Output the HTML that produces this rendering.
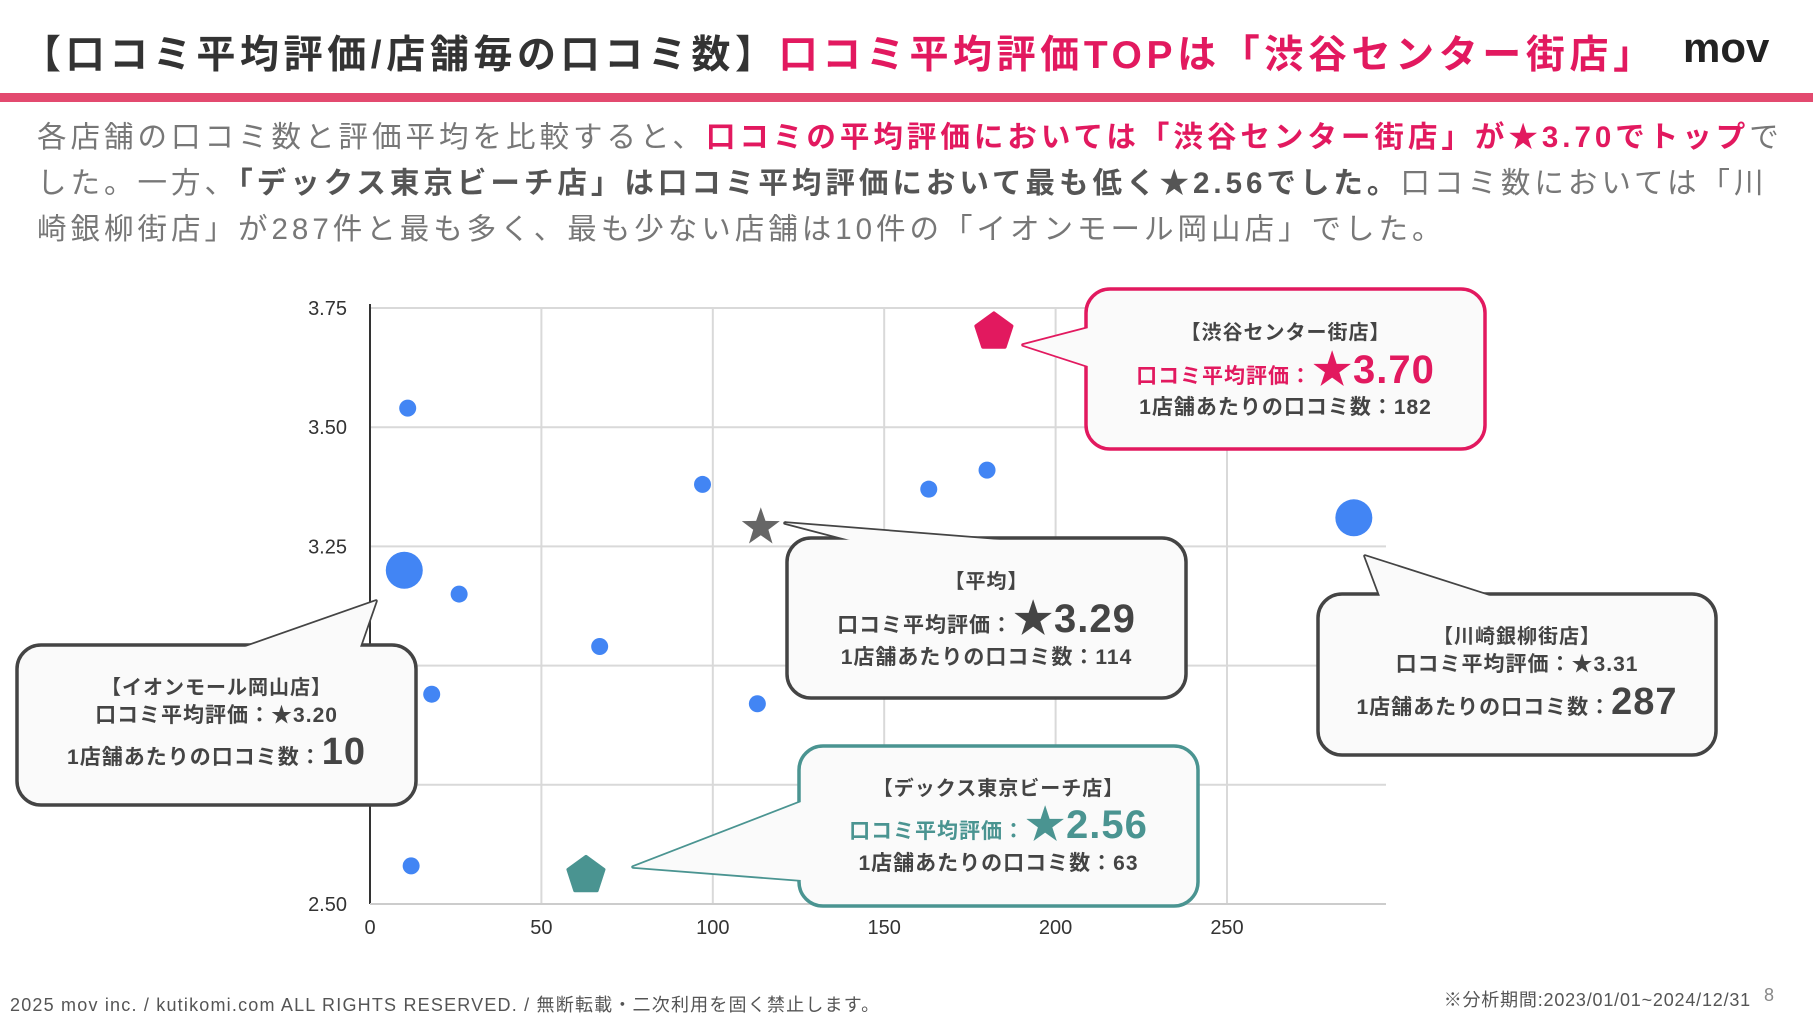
<!DOCTYPE html>
<html><head><meta charset="utf-8">
<style>
body{margin:0;width:1813px;height:1020px;background:#fff;overflow:hidden;position:relative;font-family:"Liberation Sans","Noto Sans CJK JP",sans-serif;}
.abs{position:absolute;white-space:nowrap;}
</style></head><body>
<div class="abs" style="left:22px;top:24px;font-size:39px;letter-spacing:4.6px;font-weight:bold;color:#333;">【口コミ平均評価/店舗毎の口コミ数】<span style="color:#e2195f">口コミ平均評価TOPは「渋谷センター街店」</span></div>
<div class="abs" style="left:1683px;top:24px;font-size:42px;font-weight:bold;color:#222;">mov</div>
<div class="abs" style="left:0;top:93px;width:1813px;height:9px;background:#e34a6f;"></div>
<div class="abs" style="left:37px;top:115px;font-size:29.5px;letter-spacing:4px;line-height:46px;color:#777;">各店舗の口コミ数と評価平均を比較すると、<b style="color:#e2195f">口コミの平均評価においては「渋谷センター街店」が★3.70でトップ</b>で<br>した。一方、<b style="color:#555">「デックス東京ビーチ店」は口コミ平均評価において最も低く★2.56でした。</b>口コミ数においては「川<br>崎銀柳街店」が287件と最も多く、最も少ない店舗は10件の「イオンモール岡山店」でした。</div>

<svg id="chart" width="1813" height="1020" style="position:absolute;left:0;top:0;font-family:'Liberation Sans','Noto Sans CJK JP',sans-serif;"></svg>

<div class="abs" style="left:10px;top:991px;font-size:18px;letter-spacing:1.2px;color:#555;">2025 mov inc. / kutikomi.com ALL RIGHTS RESERVED. / 無断転載・二次利用を固く禁止します。</div>
<div class="abs" style="right:62px;top:986px;font-size:18px;letter-spacing:0.8px;color:#555;">※分析期間:2023/01/01~2024/12/31</div>
<div class="abs" style="left:1764px;top:985px;font-size:18px;color:#888;">8</div>

<script>
const xTicks=[0,50,100,150,200,250];
const yTicks=[2.50,2.75,3.00,3.25,3.50,3.75];
const yTickLabels=["2.50","","","3.25","3.50","3.75"];
const storeCounts=[11,10,26,67,18,97,113,163,180,287,12];
const storeRatings=[3.54,3.20,3.15,3.04,2.94,3.38,2.92,3.37,3.41,3.31,2.58];
const storeBig=[0,1,0,0,0,0,0,0,0,1,0];
const topStore=[182,3.70];
const lowStore=[63,2.56];
const avgStore=[114,3.29];

const NS="http://www.w3.org/2000/svg";
const svg=document.getElementById('chart');
const X0=370,X1=1227,XR=1386,Y0=904,Y1=308;
const sx=v=>X0+(v-0)/(250-0)*(X1-X0);
const sy=v=>Y0-(v-2.5)/(3.75-2.5)*(Y0-Y1);
function el(t,a,p){const e=document.createElementNS(NS,t);for(const k in a)e.setAttribute(k,a[k]);(p||svg).appendChild(e);return e;}

const grid=el('g',{});


yTicks.forEach((t,i)=>{
  const l=el('line',{x1:X0,x2:XR,y1:sy(t),y2:sy(t),stroke:'#d9d9d9','stroke-width':2},grid);
  
  
  const tx=el('text',{x:347,y:sy(t)+7,'text-anchor':'end','font-size':20,fill:'#333'});
  tx.textContent=yTickLabels[i];
  
  
});
xTicks.forEach(t=>{
  if(t>0){const l=el('line',{x1:sx(t),x2:sx(t),y1:Y1,y2:Y0,stroke:'#d9d9d9','stroke-width':2},grid);
  
  }
  const tx=el('text',{x:sx(t),y:934,'text-anchor':'middle','font-size':20,fill:'#333'});
  tx.textContent=String(t);
  
  
});
const ax=el('line',{x1:X0,x2:X0,y1:Y1-4,y2:Y0,stroke:'#333','stroke-width':2});


const ax2=el('line',{x1:X0,x2:XR,y1:Y0,y2:Y0,stroke:'#ccc','stroke-width':2});



storeCounts.forEach((c,i)=>{
  const p=el('circle',{cx:sx(c),cy:sy(storeRatings[i]),r:storeBig[i]?18.5:8.5,fill:'#4285f4'});
  
  
});
function pent(cx,cy,r,col,name){
  let pts=[];for(let k=0;k<5;k++){const a=-Math.PI/2+k*2*Math.PI/5;pts.push((cx+r*Math.cos(a)).toFixed(1)+','+(cy+r*Math.sin(a)).toFixed(1));}
  const p=el('polygon',{points:pts.join(' '),fill:col,stroke:col,'stroke-width':3,'stroke-linejoin':'round'});
  
  
}
pent(sx(topStore[0]),sy(topStore[1]),19,'#e2195f','top-store-point');
pent(sx(lowStore[0]),sy(lowStore[1]),19,'#4a9491','lowest-store-point');
(function(){const cx=sx(avgStore[0]),cy=sy(avgStore[1]);let pts=[];
for(let k=0;k<10;k++){const r=k%2?8:20;const a=-Math.PI/2+k*Math.PI/5;pts.push((cx+r*Math.cos(a)).toFixed(1)+','+(cy+r*Math.sin(a)).toFixed(1));}
const p=el('polygon',{points:pts.join(' '),fill:'#666'});

})();

function callout(name,bx,by,bw,bh,tri,col,lines){
  const g=el('g',{});
  
  
  const tp=tri.map(p=>p.join(',')).join(' ');
  el('polygon',{points:tp,fill:'#fafafa',stroke:col,'stroke-width':3.5,'stroke-linejoin':'round'},g);
  el('rect',{x:bx,y:by,width:bw,height:bh,rx:24,fill:'#fafafa',stroke:col,'stroke-width':3.5},g);
  el('polygon',{points:tp,fill:'#fafafa'},g);
  const cx=bx+bw/2;
  lines.forEach(L=>{
    const t=el('text',{x:cx,y:L.y,'text-anchor':'middle','font-weight':'bold','font-size':20,fill:'#444','letter-spacing':1},g);
    L.parts.forEach(pt=>{const s=el('tspan',{'font-size':pt.s||20,fill:pt.c||'#444'},t);s.textContent=pt.t;});
  });
}
const PK='#e2195f',TL='#4a9491',DK='#444';
callout('callout-shibuya',1086,289,399,160,[[1100,325],[1023,345],[1100,370]],PK,[
 {y:339,parts:[{t:'【渋谷センター街店】'}]},
 {y:383,parts:[{t:'口コミ平均評価：',c:PK,s:21},{t:'★3.70',c:PK,s:40}]},
 {y:414,parts:[{t:'1店舗あたりの口コミ数：182',s:21}]}]);
callout('callout-average',787,538,399,160,[[850,540],[785,523],[1000,540]],DK,[
 {y:588,parts:[{t:'【平均】'}]},
 {y:632,parts:[{t:'口コミ平均評価：',s:21},{t:'★3.29',s:40}]},
 {y:664,parts:[{t:'1店舗あたりの口コミ数：114',s:21}]}]);
callout('callout-kawasaki',1318,594,398,161,[[1380,596],[1365,556],[1490,596]],DK,[
 {y:643,parts:[{t:'【川崎銀柳街店】'}]},
 {y:671,parts:[{t:'口コミ平均評価：★3.31',s:21}]},
 {y:714,parts:[{t:'1店舗あたりの口コミ数：',s:21},{t:'287',s:38}]}]);
callout('callout-aeon',17,645,399,160,[[245,647],[376,601],[360,647]],DK,[
 {y:694,parts:[{t:'【イオンモール岡山店】'}]},
 {y:722,parts:[{t:'口コミ平均評価：★3.20',s:21}]},
 {y:764,parts:[{t:'1店舗あたりの口コミ数：',s:21},{t:'10',s:38}]}]);
callout('callout-decks',799,746,399,160,[[801,802],[633,867],[801,880]],TL,[
 {y:795,parts:[{t:'【デックス東京ビーチ店】'}]},
 {y:838,parts:[{t:'口コミ平均評価：',c:TL,s:21},{t:'★2.56',c:TL,s:40}]},
 {y:870,parts:[{t:'1店舗あたりの口コミ数：63',s:21}]}]);
</script>
</body></html>
